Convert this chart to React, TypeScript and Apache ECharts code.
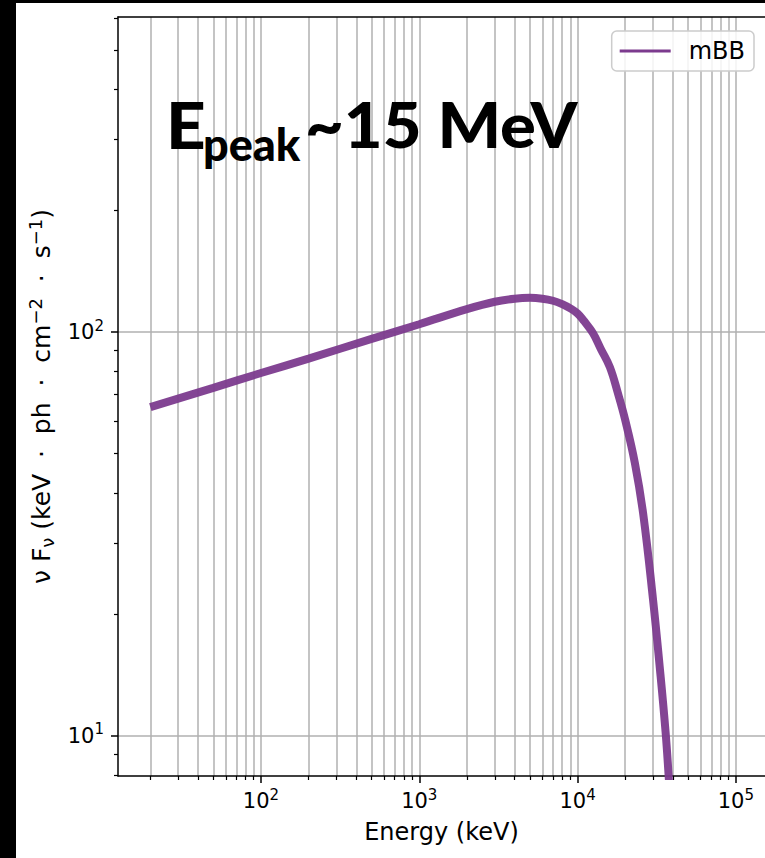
import React, { useEffect, useRef } from 'react';
import * as echarts from 'echarts';

// ---- data ----
const energyKeV = [20, 50, 100, 200, 500, 1000, 2000, 3000, 4000, 5000, 6000, 7000, 8000, 9000, 10000, 11000, 12500, 14000, 16000, 18000, 20000, 23000, 26000, 30000, 33000, 36000, 38000, 40000];
const fluxMBB = [65.2, 72.8, 79.2, 86.0, 96.2, 104.6, 114.0, 118.9, 121.0, 121.6, 121.0, 119.6, 117.3, 114.5, 111.2, 106.5, 99.5, 91.0, 81.9, 70.5, 60.6, 47.5, 35.4, 21.7, 14.9, 10.2, 7.5, 5.5];
const seriesName = 'mBB';
const xMajorTicks = [100, 1000, 10000, 100000];
const xMinorTicks = [20, 30, 40, 50, 60, 70, 80, 90, 200, 300, 400, 500, 600, 700, 800, 900, 2000, 3000, 4000, 5000, 6000, 7000, 8000, 9000, 20000, 30000, 40000, 50000, 60000, 70000, 80000, 90000];
const yMajorTicks = [10, 100];
const yMinorTicks = [8, 9, 20, 30, 40, 50, 60, 70, 80, 90, 200, 300, 400, 500, 600];
const xRange = [12.5, 152800];
const yRange = [7.96, 603];
const xTitle = 'Energy (keV)';
const yTitle = '{t|ν F}{s|ν}{t| (keV  ·  ph  ·  cm}{p|−2}{t|  ·  s}{p|−1}{t|)}';
const annotation = { main: 'E', sub: 'peak', rest: '~15 MeV' };

const FONT = 'DejaVu Sans';
const PURPLE = '#7c3b8e';
const GRID = '#b0b0b0';

const powLabel = (v: number) => {
  const e = Math.round(Math.log10(v));
  return `{b|10}{s|${e}}`;
};
const powRich = {
  b: { fontSize: 21, fontFamily: FONT, color: '#000', lineHeight: 28 },
  s: { fontSize: 15, fontFamily: FONT, color: '#000', lineHeight: 16, verticalAlign: 'top' },
};

export default function App() {
  const ref = useRef<HTMLDivElement>(null);
  useEffect(() => {
    if (!ref.current) return;
    const chart = echarts.init(ref.current, null, { renderer: 'svg' });
    const option: any = {
      animation: false,
      backgroundColor: '#ffffff',
      textStyle: { fontFamily: FONT },
      grid: { left: 118, top: 17, right: 0, bottom: 82, containLabel: false, outerBoundsMode: 'none' },
      legend: {
        data: [{ name: seriesName, icon: 'rect' }],
        right: 11,
        top: 31,
        orient: 'horizontal',
        itemWidth: 51,
        itemHeight: 3,
        padding: [8, 9, 8, 8],
        borderColor: '#cccccc',
        borderWidth: 1.5,
        borderRadius: 5,
        backgroundColor: 'rgba(255,255,255,0.85)',
        textStyle: { fontSize: 24, fontFamily: FONT, color: '#000', padding: [0, 0, 0, 13] },
      },
      xAxis: [
        {
          type: 'log', logBase: 10, min: xRange[0], max: xRange[1], position: 'bottom', offset: 0,
          axisLine: { show: true, onZero: false, lineStyle: { color: '#000', width: 1.5 } },
          axisTick: { show: true, inside: false, length: 7, customValues: xMajorTicks, lineStyle: { color: '#000', width: 1.5 } },
          axisLabel: { show: true, customValues: xMajorTicks, formatter: powLabel, rich: powRich, fontSize: 21, margin: 11, color: '#000' },
          splitLine: { show: true, lineStyle: { color: GRID, width: 1.5 } },
          name: xTitle, nameLocation: 'middle', nameGap: 44,
          nameTextStyle: { fontSize: 24, fontFamily: FONT, color: '#000' },
        },
        {
          type: 'log', logBase: 10, min: xRange[0], max: xRange[1], position: 'bottom', offset: 0,
          axisLine: { show: false, onZero: false },
          axisTick: { show: true, inside: false, length: 4, customValues: xMinorTicks, lineStyle: { color: '#000', width: 1.2 } },
          axisLabel: { show: false },
          splitLine: { show: true, lineStyle: { color: GRID, width: 1.5 } },
        },
        {
          type: 'log', logBase: 10, min: xRange[0], max: xRange[1], position: 'top', offset: 0,
          axisLine: { show: true, onZero: false, lineStyle: { color: '#000', width: 1.5 } },
          axisTick: { show: false }, axisLabel: { show: false }, splitLine: { show: false },
        },
      ],
      yAxis: [
        {
          type: 'log', logBase: 10, min: yRange[0], max: yRange[1], position: 'left', offset: 0,
          axisLine: { show: true, onZero: false, lineStyle: { color: '#000', width: 1.5 } },
          axisTick: { show: true, inside: false, length: 7, customValues: yMajorTicks, lineStyle: { color: '#000', width: 1.5 } },
          axisLabel: { show: true, customValues: yMajorTicks, formatter: powLabel, rich: powRich, fontSize: 21, margin: 14, color: '#000' },
          splitLine: { show: true, lineStyle: { color: GRID, width: 1.5 } },
          name: yTitle, nameLocation: 'middle', nameGap: 60, nameRotate: 90,
          nameTextStyle: {
            rich: {
              t: { fontSize: 25, fontFamily: FONT, color: '#000', lineHeight: 30 },
              s: { fontSize: 18, fontFamily: FONT, color: '#000', lineHeight: 22, verticalAlign: 'bottom' },
              p: { fontSize: 18, fontFamily: FONT, color: '#000', lineHeight: 22, verticalAlign: 'top' },
            },
          },
        },
        {
          type: 'log', logBase: 10, min: yRange[0], max: yRange[1], position: 'left', offset: 0,
          axisLine: { show: false, onZero: false },
          axisTick: { show: true, inside: false, length: 4, customValues: yMinorTicks, lineStyle: { color: '#000', width: 1.2 } },
          axisLabel: { show: false }, splitLine: { show: false },
        },
      ],
      graphic: [
        { type: 'rect', left: 0, top: 0, shape: { x: 0, y: 0, width: 16, height: 858 }, style: { fill: '#000' }, z: 100 },
        { type: 'rect', left: 0, top: 0, shape: { x: 0, y: 0, width: 765, height: 3 }, style: { fill: '#000' }, z: 100 },
        { type: 'text', x: 166, y: 124, scaleX: 1.08, z: 50, style: { text: annotation.main, font: '900 64px Lato', fill: '#000', align: 'left', verticalAlign: 'middle' } },
        { type: 'text', x: 203, y: 144, z: 50, style: { text: annotation.sub, font: '900 45px Lato', fill: '#000', align: 'left', verticalAlign: 'middle' } },
        { type: 'text', x: 305, y: 124, scaleX: 1.08, z: 50, style: { text: annotation.rest, font: '900 62px Lato', fill: '#000', align: 'left', verticalAlign: 'middle' } },
      ],
      series: [
        {
          type: 'line', name: seriesName, xAxisIndex: 0, yAxisIndex: 0,
          data: energyKeV.map((e, i) => [e, fluxMBB[i]]),
          showSymbol: false, smooth: 0.4, clip: true,
          lineStyle: { width: 8, color: PURPLE, opacity: 0.95 },
          itemStyle: { color: PURPLE },
        },
      ],
    };
    chart.setOption(option);
    return () => chart.dispose();
  }, []);
  return <div ref={ref} style={{ position: 'fixed', left: 0, top: 0, width: 765, height: 858 }} />;
}
